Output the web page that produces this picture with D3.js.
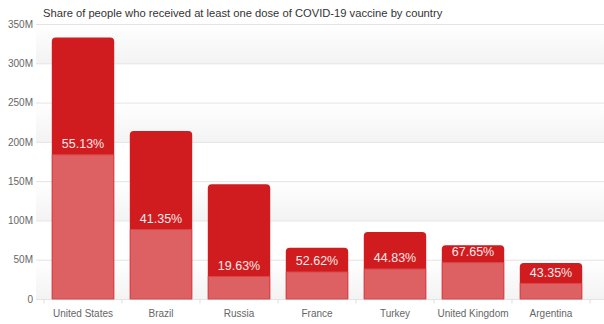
<!DOCTYPE html>
<html><head><meta charset="utf-8">
<script src="https://cdn.jsdelivr.net/npm/d3@7"></script>
<style>html,body{margin:0;padding:0;background:#fff;}svg{display:block;}</style>
</head><body>
<svg id="c" width="604" height="324"></svg>
<script>
const title = "Share of people who received at least one dose of COVID-19 vaccine by country";
const countries = ["United States","Brazil","Russia","France","Turkey","United Kingdom","Argentina"];
const population = [332.9, 213.9, 146.0, 65.3, 85.2, 68.4, 45.7];
const vaccinated = [183.5, 88.4, 28.7, 34.4, 38.2, 46.3, 19.8];
const shareLabels = ["55.13%","41.35%","19.63%","52.62%","44.83%","67.65%","43.35%"];
const yTicks = [0,50,100,150,200,250,300,350];

const svg = d3.select("#c");
const font = "Liberation Sans, Arial, sans-serif";
const x = d3.scaleBand().domain(countries).range([44,590]).paddingInner(0.2).paddingOuter(0.1);
const y = d3.scaleLinear().domain([0,350]).range([299,24]);

// alternating bands
const defs = svg.append("defs");
const g = defs.append("linearGradient").attr("id","band").attr("x1",0).attr("y1",0).attr("x2",0).attr("y2",1);
g.append("stop").attr("offset","0%").attr("stop-color","#ffffff");
g.append("stop").attr("offset","100%").attr("stop-color","#f3f3f3");
svg.append("g").selectAll("rect").data(yTicks.filter(d=>(d/50)%2===1))
  .join("rect").attr("x",36).attr("width",568)
  .attr("y",d=>y(d)).attr("height",d=>y(d-50)-y(d)).attr("fill","url(#band)");

// grid + y axis
const yAxis = d3.axisLeft(y).tickValues(yTicks).tickSize(-568).tickPadding(3)
  .tickFormat(d=>d===0?"0":d+"M");
const ya = svg.append("g").attr("transform","translate(36,0)").call(yAxis);
ya.select(".domain").remove();
ya.selectAll(".tick line").attr("stroke","#e3e3e3");
ya.selectAll(".tick text").attr("fill","#666").style("font-family",font).style("font-size","10px");

// x axis
const xAxis = d3.axisBottom(x).tickSize(4).tickPadding(6);
const xa = svg.append("g").attr("transform","translate(0,299.5)").call(xAxis);
xa.select(".domain").remove();
xa.selectAll(".tick text").attr("fill","#666").style("font-family",font).style("font-size","10px");
xa.selectAll(".tick line").remove();
xa.selectAll(".sep").data(d3.range(countries.length+1)).join("line")
  .attr("x1",i=>44+i*x.step()).attr("x2",i=>44+i*x.step()).attr("y1",0).attr("y2",4).attr("stroke","#ddd");

// bars
const r = 4;
function topRounded(x0,w,yt,yb){
  return `M${x0},${yb}V${yt+r}Q${x0},${yt} ${x0+r},${yt}H${x0+w-r}Q${x0+w},${yt} ${x0+w},${yt+r}V${yb}Z`;
}
svg.append("g").selectAll("path").data(countries).join("path")
  .attr("d",(c,i)=>topRounded(x(c),x.bandwidth(),y(population[i]),y(0)))
  .attr("fill","#d01b1f");
svg.append("g").selectAll("rect").data(countries).join("rect")
  .attr("x",c=>x(c)+0.5).attr("width",x.bandwidth()-1)
  .attr("y",(c,i)=>y(vaccinated[i])).attr("height",(c,i)=>y(0)-y(vaccinated[i]))
  .attr("fill","#dd6063").attr("stroke","#d9474b").attr("stroke-width",1);

// labels
svg.append("g").selectAll("text").data(countries).join("text")
  .attr("x",c=>x(c)+x.bandwidth()/2)
  .attr("y",(c,i)=>y(vaccinated[i])-11)
  .attr("dy","0.35em").attr("text-anchor","middle")
  .attr("fill","#fbeaea").style("font-family",font).style("font-size","12.5px")
  .text((c,i)=>shareLabels[i]);

svg.append("text").attr("x",43).attr("y",17).attr("fill","#333")
  .style("font-family",font).style("font-size","11.2px").text(title);
</script>
</body></html>
